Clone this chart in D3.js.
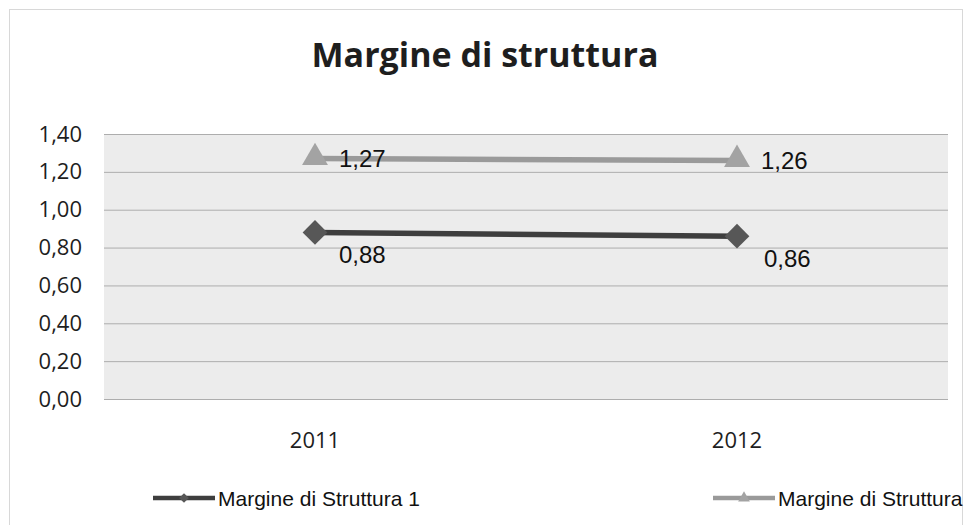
<!DOCTYPE html>
<html lang="it">
<head>
    <meta charset="utf-8">
    <title>Margine di struttura</title>
    <script src="https://d3js.org/d3.v7.min.js"></script>
    <style>
        body { margin: 0; background: #fff; }
        svg { display: block; }
    </style>
</head>
<body>
<div id="chart"></div>
<script>
    // data
    var years = ["2011", "2012"];
    var serie1 = [0.88, 0.86];   // Margine di Struttura 1
    var serie2 = [1.27, 1.26];   // Margine di Struttura 2
    var seriesNames = ["Margine di Struttura 1", "Margine di Struttura"];
    var yTicks = [0, 0.2, 0.4, 0.6, 0.8, 1.0, 1.2, 1.4];

    var width = 970, height = 525;
    var margin = {top: 134, right: 22, bottom: 126, left: 104};

    var svg = d3.select("#chart").append("svg")
        .attr("width", width)
        .attr("height", height);

    // outer frame of the chart
    svg.append("rect")
        .attr("x", 9.5).attr("y", 9.5)
        .attr("width", 953).attr("height", 520)
        .attr("fill", "none")
        .attr("stroke", "#d8d8d8");

    svg.append("text")
        .attr("x", 485)
        .attr("y", 67)
        .attr("text-anchor", "middle")
        .attr("font-family", "Open Sans, sans-serif")
        .attr("font-weight", "bold")
        .attr("font-size", 34)
        .attr("fill", "#1e1e1e")
        .text("Margine di struttura");

    var x = d3.scaleBand()
        .domain(years)
        .range([margin.left, width - margin.right]);

    var y = d3.scaleLinear()
        .domain([0, 1.4])
        .range([height - margin.bottom, margin.top]);

    var fmt = function (v) { return d3.format(".2f")(v).replace(".", ","); };

    // plot area
    svg.append("rect")
        .attr("x", margin.left)
        .attr("y", margin.top)
        .attr("width", width - margin.left - margin.right)
        .attr("height", y(0) - y(1.4))
        .attr("fill", "#ececec");

    // gridlines
    svg.append("g")
        .attr("transform", "translate(" + margin.left + ",0)")
        .call(d3.axisLeft(y).tickValues(yTicks)
            .tickSize(-(width - margin.left - margin.right)).tickFormat(""))
        .call(function (g) { g.select(".domain").remove(); })
        .selectAll("line")
        .attr("stroke", "#adadad")
        .attr("stroke-width", 1);

    // y labels
    svg.append("g")
        .attr("transform", "translate(" + margin.left + ",0)")
        .call(d3.axisLeft(y).tickValues(yTicks).tickSize(0).tickPadding(22).tickFormat(fmt))
        .call(function (g) { g.select(".domain").remove(); })
        .selectAll("text")
        .attr("font-family", "Open Sans, sans-serif")
        .attr("font-size", 22)
        .attr("fill", "#1e1e1e");

    // x labels
    svg.append("g")
        .attr("transform", "translate(0," + y(0) + ")")
        .call(d3.axisBottom(x).tickSize(0).tickPadding(33))
        .call(function (g) { g.select(".domain").remove(); })
        .selectAll("text")
        .attr("font-family", "Open Sans, sans-serif")
        .attr("font-size", 22)
        .attr("fill", "#1e1e1e");

    var cx = function (d, i) { return x(years[i]) + x.bandwidth() / 2; };
    var line = d3.line()
        .x(function (d, i) { return x(years[i]) + x.bandwidth() / 2; })
        .y(function (d) { return y(d); });

    // serie 2 (triangles)
    svg.append("path")
        .datum(serie2)
        .attr("d", line)
        .attr("fill", "none")
        .attr("stroke", "#9a9a9a")
        .attr("stroke-width", 5.5);

    svg.selectAll(".tri")
        .data(serie2).enter()
        .append("path")
        .attr("class", "tri")
        .attr("transform", function (d, i) { return "translate(" + cx(d, i) + "," + (y(d) - 1) + ")"; })
        .attr("d", d3.symbol().type(d3.symbolTriangle).size(290))
        .attr("fill", "#a3a3a3");

    svg.selectAll(".lab2")
        .data(serie2).enter()
        .append("text")
        .attr("x", function (d, i) { return cx(d, i) + 24; })
        .attr("y", function (d) { return y(d) + 8; })
        .attr("font-family", "Liberation Sans, Arial, sans-serif")
        .attr("font-size", 24)
        .attr("fill", "#111")
        .text(fmt);

    // serie 1 (diamonds)
    svg.append("path")
        .datum(serie1)
        .attr("d", line)
        .attr("fill", "none")
        .attr("stroke", "#3e3e3e")
        .attr("stroke-width", 5.5);

    svg.selectAll(".dia")
        .data(serie1).enter()
        .append("path")
        .attr("class", "dia")
        .attr("transform", function (d, i) { return "translate(" + cx(d, i) + "," + y(d) + ")"; })
        .attr("d", d3.symbol().type(d3.symbolDiamond2).size(390))
        .attr("fill", "#575757");

    svg.selectAll(".lab1")
        .data(serie1).enter()
        .append("text")
        .attr("x", function (d, i) { return cx(d, i) + 24 + i * 3; })
        .attr("y", function (d) { return y(d) + 31; })
        .attr("font-family", "Liberation Sans, Arial, sans-serif")
        .attr("font-size", 24)
        .attr("fill", "#111")
        .text(fmt);

    // legend
    var legend = [
        {x: 153, color: "#3e3e3e", mark: d3.symbolDiamond2, fill: "#575757"},
        {x: 713, color: "#9a9a9a", mark: d3.symbolTriangle, fill: "#a3a3a3"}
    ];
    legend.forEach(function (l, i) {
        var g = svg.append("g").attr("transform", "translate(" + l.x + ",498)");
        g.append("line")
            .attr("x1", 0).attr("x2", 62)
            .attr("stroke", l.color).attr("stroke-width", 4.5);
        g.append("path")
            .attr("transform", "translate(31,0)")
            .attr("d", d3.symbol().type(l.mark).size(60))
            .attr("fill", l.fill);
        g.append("text")
            .attr("x", 65).attr("y", 8)
            .attr("font-family", "Liberation Sans, Arial, sans-serif")
            .attr("font-size", 21)
            .attr("fill", "#111")
            .text(seriesNames[i]);
    });
</script>
</body>
</html>
